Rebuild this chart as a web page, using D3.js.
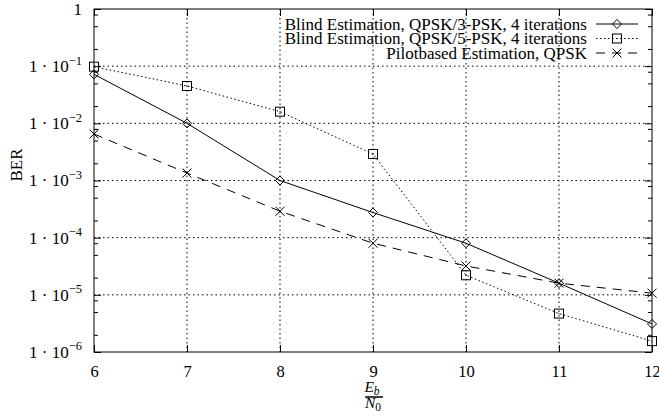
<!DOCTYPE html>
<html>
<head>
<meta charset="utf-8">
<script src="https://cdn.jsdelivr.net/npm/d3@7"></script>
<style>
  body { margin: 0; background: #fff; }
  svg text { font-family: "Liberation Serif", "Times New Roman", serif; fill: #000; }
</style>
</head>
<body>
<div id="chart"></div>
<script>
// Eb/N0 values on the x axis
var snr = [6, 7, 8, 9, 10, 11, 12];

// BER curves
var berQpsk3 = [0.072, 0.01, 0.001, 2.75e-4, 8e-5, 1.6e-5, 3.1e-6];
var berQpsk5 = [0.098, 0.045, 0.016, 2.9e-3, 2.2e-5, 4.7e-6, 1.55e-6];
var berPilot = [6.5e-3, 1.35e-3, 2.9e-4, 8e-5, 3.2e-5, 1.6e-5, 1.07e-5];

var seriesNames = [
  "Blind Estimation, QPSK/3-PSK, 4 iterations",
  "Blind Estimation, QPSK/5-PSK, 4 iterations",
  "Pilotbased Estimation, QPSK"
];

var xTicks = [6, 7, 8, 9, 10, 11, 12];
var yTicks = [1, 1e-1, 1e-2, 1e-3, 1e-4, 1e-5, 1e-6];
var yExp = [0, -1, -2, -3, -4, -5, -6];
var minorMult = [2, 5, 8];

var W = 659, H = 420;
var margin = {top: 9, right: 7, bottom: 68, left: 94};

var x = d3.scaleLinear().domain([6, 12]).range([margin.left, W - margin.right]);
var y = d3.scaleLog().domain([1e-6, 1]).range([H - margin.bottom, margin.top]);

var svg = d3.select("#chart").append("svg")
  .attr("width", W)
  .attr("height", H);

// grid (dotted)
var grid = svg.append("g").attr("stroke", "#000").attr("stroke-width", 1)
  .attr("stroke-dasharray", "1.5,3");
grid.selectAll(".gx").data(xTicks.slice(1, -1)).enter().append("line")
  .attr("x1", function(d){ return x(d); }).attr("x2", function(d){ return x(d); })
  .attr("y1", y(1)).attr("y2", y(1e-6));
grid.selectAll(".gy").data(yTicks.slice(1, -1)).enter().append("line")
  .attr("y1", function(d){ return y(d); }).attr("y2", function(d){ return y(d); })
  .attr("x1", x(6)).attr("x2", x(12));

// minor y ticks
var minors = [];
yExp.slice(1).forEach(function(e){
  minorMult.forEach(function(m){ minors.push(m * Math.pow(10, e)); });
});

function styleAxis(g){
  g.select(".domain").remove();
  g.selectAll("line").attr("stroke", "#000").attr("stroke-width", 1);
}

svg.append("g").attr("transform", "translate(" + x(6) + ",0)")
  .call(d3.axisLeft(y).tickValues(minors).tickSize(-4).tickFormat(""))
  .call(styleAxis);
svg.append("g").attr("transform", "translate(" + x(12) + ",0)")
  .call(d3.axisRight(y).tickValues(minors).tickSize(-4).tickFormat(""))
  .call(styleAxis);

// major y ticks + labels
var yAxis = svg.append("g").attr("transform", "translate(" + x(6) + ",0)")
  .call(d3.axisLeft(y).tickValues(yTicks).tickSize(-7).tickPadding(12))
  .call(styleAxis);
yAxis.selectAll("text").each(function(d, i){
  var t = d3.select(this).text(null)
    .attr("font-size", 17).attr("dy", "0.32em");
  var e = Math.round(Math.log10(d));
  if (e === 0) { t.text("1"); return; }
  t.append("tspan").text("1 \u00b7 10");
  t.append("tspan").attr("dy", "-0.6em").attr("font-size", 12.5).text("\u2212" + Math.abs(e));
});
svg.append("g").attr("transform", "translate(" + x(12) + ",0)")
  .call(d3.axisRight(y).tickValues(yTicks).tickSize(-7).tickFormat(""))
  .call(styleAxis);

// x ticks
var xAxis = svg.append("g").attr("transform", "translate(0," + y(1e-6) + ")")
  .call(d3.axisBottom(x).tickValues(xTicks).tickSize(-7).tickPadding(13).tickFormat(d3.format("d")))
  .call(styleAxis);
xAxis.selectAll("text").attr("font-size", 16.5);
svg.append("g").attr("transform", "translate(0," + y(1) + ")")
  .call(d3.axisTop(x).tickValues(xTicks).tickSize(-7).tickFormat(""))
  .call(styleAxis);

// border
svg.append("rect")
  .attr("x", x(6)).attr("y", y(1))
  .attr("width", x(12) - x(6)).attr("height", y(1e-6) - y(1))
  .attr("fill", "none").attr("stroke", "#000").attr("stroke-width", 1);

// axis titles
svg.append("text")
  .attr("transform", "translate(22," + 165 + ") rotate(-90)")
  .attr("text-anchor", "middle").attr("font-size", 17).text("BER");

var xt = svg.append("g").attr("transform", "translate(" + x(9) + ",0)");
xt.append("text").attr("x", -1).attr("y", 392).attr("text-anchor", "middle")
  .attr("font-size", 15.5).attr("font-style", "italic")
  .call(function(t){
    t.append("tspan").text("E");
    t.append("tspan").attr("dy", "0.25em").attr("font-size", 11.5).text("b");
  });
xt.append("line").attr("x1", -8).attr("x2", 10).attr("y1", 397).attr("y2", 397)
  .attr("stroke", "#000").attr("stroke-width", 1.5);
xt.append("text").attr("x", 0).attr("y", 408).attr("text-anchor", "middle")
  .attr("font-size", 15.5).attr("font-style", "italic")
  .call(function(t){
    t.append("tspan").text("N");
    t.append("tspan").attr("dy", "0.25em").attr("font-size", 11.5).attr("font-style", "normal").text("0");
  });

// series
var series = [
  {name: seriesNames[0], values: berQpsk3, dash: null, marker: "diamond"},
  {name: seriesNames[1], values: berQpsk5, dash: "1.5,2.5", marker: "square"},
  {name: seriesNames[2], values: berPilot, dash: "9,7", marker: "cross"}
];

var line = d3.line()
  .x(function(d){ return x(d[0]); })
  .y(function(d){ return y(d[1]); });

function drawMarker(g, type, cx, cy){
  if (type === "diamond") {
    g.append("path").attr("d", "M" + cx + "," + (cy - 4.5) + "L" + (cx + 4.5) + "," + cy +
      "L" + cx + "," + (cy + 4.5) + "L" + (cx - 4.5) + "," + cy + "Z")
      .attr("fill", "none").attr("stroke", "#000");
  } else if (type === "square") {
    g.append("rect").attr("x", cx - 4.5).attr("y", cy - 4.5).attr("width", 9).attr("height", 9)
      .attr("fill", "none").attr("stroke", "#000");
    g.append("rect").attr("x", cx - 0.5).attr("y", cy - 0.5).attr("width", 1).attr("height", 1)
      .attr("fill", "#000");
  } else {
    g.append("path").attr("d", "M" + (cx - 4.5) + "," + (cy - 4.5) + "L" + (cx + 4.5) + "," + (cy + 4.5) +
      "M" + (cx - 4.5) + "," + (cy + 4.5) + "L" + (cx + 4.5) + "," + (cy - 4.5))
      .attr("fill", "none").attr("stroke", "#000");
  }
}

series.forEach(function(s){
  var pts = snr.map(function(v, i){ return [v, s.values[i]]; });
  svg.append("path").datum(pts)
    .attr("d", line)
    .attr("fill", "none").attr("stroke", "#000").attr("stroke-width", 1)
    .attr("stroke-dasharray", s.dash);
  var mg = svg.append("g").attr("stroke-width", 1);
  pts.forEach(function(p){ drawMarker(mg, s.marker, x(p[0]), y(p[1])); });
});

// legend
var legY = [24, 38.5, 53];
series.forEach(function(s, i){
  svg.append("text").attr("x", 587).attr("y", legY[i]).attr("dy", "0.33em")
    .attr("text-anchor", "end").attr("font-size", 17).text(s.name);
  svg.append("line").attr("x1", 596).attr("x2", 638).attr("y1", legY[i]).attr("y2", legY[i])
    .attr("stroke", "#000").attr("stroke-dasharray", s.dash);
  drawMarker(svg.append("g"), s.marker, 617, legY[i]);
});
</script>
</body>
</html>
